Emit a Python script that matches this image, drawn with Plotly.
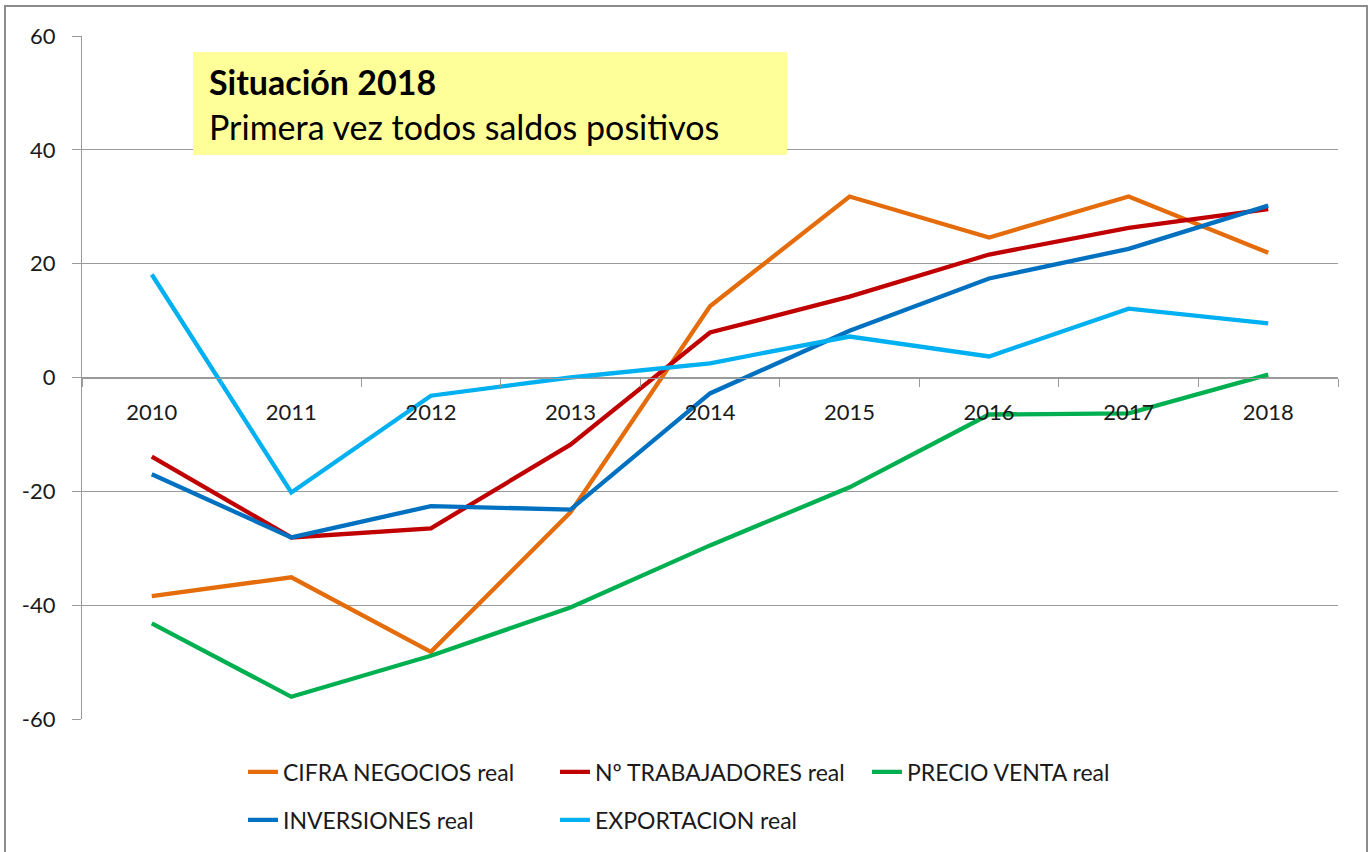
import plotly.graph_objects as go

years = ["2010", "2011", "2012", "2013", "2014", "2015", "2016", "2017", "2018"]

cifra_negocios = [-38.4, -35.1, -48.2, -23.7, 12.5, 31.8, 24.6, 31.8, 21.9]
n_trabajadores = [-13.9, -28.1, -26.5, -11.8, 7.9, 14.2, 21.6, 26.3, 29.6]
precio_venta = [-43.2, -56.1, -48.9, -40.4, -29.5, -19.3, -6.5, -6.3, 0.5]
inversiones = [-17.0, -28.1, -22.6, -23.2, -2.8, 8.2, 17.4, 22.6, 30.2]
exportacion = [18.1, -20.2, -3.2, 0.0, 2.5, 7.2, 3.7, 12.1, 9.5]

series_names = ["CIFRA NEGOCIOS real", "Nº TRABAJADORES real", "PRECIO VENTA real",
                "INVERSIONES real", "EXPORTACION real"]
series_values = [cifra_negocios, n_trabajadores, precio_venta, inversiones, exportacion]
series_colors = ["#E46C0A", "#C00000", "#00B050", "#0070C0", "#00B0F0"]
series_legend = ["legend", "legend", "legend", "legend2", "legend2"]

y_ticks = [-60, -40, -20, 0, 20, 40, 60]
y_tick_labels = ["-60", "-40", "-20", "0", "20", "40", "60"]

FONT = "Lato, 'Open Sans', sans-serif"
GRID = "#9a9a9a"

fig = go.Figure()
for name, vals, col, lg in zip(series_names, series_values, series_colors, series_legend):
    fig.add_trace(go.Scatter(
        x=years, y=vals, name=name, mode="lines",
        line=dict(color=col, width=4.3),
        legend=lg,
    ))

# plot area pixels: x 82..1338, y 36..719
L, R, T, B = 82, 34, 36, 133
W, H = 1372, 852
pw, ph = W - L - R, H - T - B

def px_x(p):
    return (p - L) / pw

def px_y(p):
    return (H - B - p) / ph

fig.update_layout(
    width=W, height=H,
    margin=dict(l=L, r=R, t=T, b=B, autoexpand=False),
    paper_bgcolor="white", plot_bgcolor="white",
    font=dict(family=FONT, color="#1a1a1a"),
    xaxis=dict(
        type="category", anchor="free", position=0.5,
        range=[-0.5, len(years) - 0.5],
        showgrid=False, zeroline=False,
        showline=True, linecolor=GRID, linewidth=1.3,
        ticks="outside", tickson="boundaries", ticklen=8, tickcolor=GRID, tickwidth=1.3,
        tickfont=dict(family=FONT, size=22, color="#1a1a1a"),
        ticklabelstandoff=15,
    ),
    yaxis=dict(
        range=[-60, 60], tickvals=y_ticks, ticktext=y_tick_labels, domain=[0, 1],
        showgrid=True, gridcolor=GRID, gridwidth=1.3,
        zeroline=False,
        showline=True, linecolor=GRID, linewidth=1.3,
        ticks="outside", ticklen=9, tickcolor=GRID, tickwidth=1.3,
        tickfont=dict(family=FONT, size=22, color="#1a1a1a"),
        ticklabelstandoff=12,
    ),
    legend=dict(
        orientation="h", x=px_x(243), y=px_y(772), xanchor="left", yanchor="middle",
        entrywidth=267, entrywidthmode="pixels",
        font=dict(family=FONT, size=23, color="#1a1a1a"),
        bgcolor="rgba(0,0,0,0)",
    ),
    legend2=dict(
        orientation="h", x=px_x(243), y=px_y(820), xanchor="left", yanchor="middle",
        entrywidth=267, entrywidthmode="pixels",
        font=dict(family=FONT, size=23, color="#1a1a1a"),
        bgcolor="rgba(0,0,0,0)",
    ),
    showlegend=True,
)

# outer chart border
fig.add_shape(type="rect", xref="paper", yref="paper",
              x0=px_x(5), x1=px_x(1367), y0=px_y(860), y1=px_y(6),
              line=dict(color="#8c8c8c", width=2), fillcolor="rgba(0,0,0,0)", layer="above")
# yellow note box
fig.add_shape(type="rect", xref="paper", yref="paper",
              x0=px_x(193), x1=px_x(787), y0=px_y(155), y1=px_y(52),
              line=dict(width=0), fillcolor="#FFFF99", layer="above")

fig.add_annotation(xref="paper", yref="paper", x=px_x(207), y=px_y(82),
                   xanchor="left", yanchor="middle", showarrow=False,
                   text="<b>Situación 2018</b>",
                   font=dict(family=FONT, size=34, color="black"))
fig.add_annotation(xref="paper", yref="paper", x=px_x(207), y=px_y(127),
                   xanchor="left", yanchor="middle", showarrow=False,
                   text="Primera vez todos saldos positivos",
                   font=dict(family=FONT, size=34, color="black"))

fig.write_html("out.html",
               config={"displayModeBar": False},
               post_script="document.body.style.margin='0';document.body.style.overflow='hidden';")
